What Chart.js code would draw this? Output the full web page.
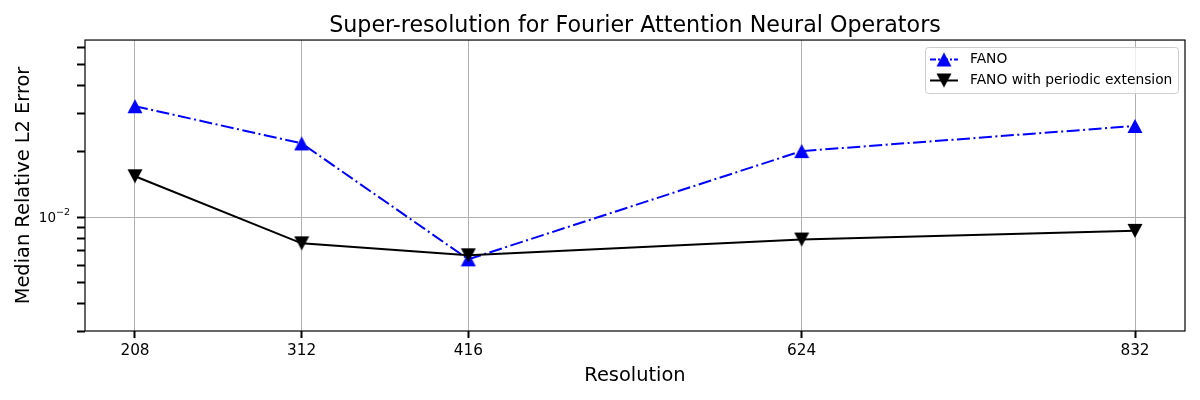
<!DOCTYPE html>
<html>
<head>
<meta charset="utf-8">
<script src="https://cdn.jsdelivr.net/npm/chart.js@4.4.1/dist/chart.umd.min.js"></script>
<style>body{margin:0;background:#fff}</style>
</head>
<body>
<canvas id="mycanvas" width="1200" height="400"></canvas>
<script>
// values
var resolutions = [208, 312, 416, 624, 832];
var fanoErr = [0.0323, 0.0218, 0.0064, 0.0201, 0.0262];
var fanoPeriodicErr = [0.0154, 0.00758, 0.00668, 0.00789, 0.00865];
var yTicks = [0.003, 0.004, 0.005, 0.006, 0.007, 0.008, 0.009, 0.01, 0.02, 0.03, 0.04, 0.05, 0.06];
var yLabelled = 0.01;
var yLabelBase = '10';
var yLabelExp = '\u22122';
var seriesNames = ['FANO', 'FANO with periodic extension'];

Chart.defaults.font.family = "'DejaVu Sans', sans-serif";
Chart.defaults.color = '#000';

// matplotlib style triangle markers
function triangle(up, color) {
  var c = document.createElement('canvas');
  c.width = 16; c.height = 16;
  var g = c.getContext('2d');
  g.fillStyle = color;
  g.beginPath();
  if (up) {
    g.moveTo(8, 1); g.lineTo(15.5, 15); g.lineTo(0.5, 15);
  } else {
    g.moveTo(8, 15); g.lineTo(15.5, 1); g.lineTo(0.5, 1);
  }
  g.closePath();
  g.fill();
  return c;
}
var upBlue = triangle(true, '#0000ff');
var downBlack = triangle(false, '#000000');

function points(vals) {
  var out = [];
  for (var i in resolutions) out.push({x: resolutions[i], y: vals[i]});
  return out;
}

var framePlugin = {
  id: 'frame',
  afterDraw: function(chart) {
    var ctx = chart.ctx, a = chart.chartArea;
    ctx.save();
    ctx.strokeStyle = '#000';
    ctx.lineWidth = 1.2;
    ctx.strokeRect(a.left, a.top, a.right - a.left, a.bottom - a.top);

    // 10^-2 label with a real superscript
    var ty = chart.scales.y.getPixelForValue(yLabelled);
    var right = a.left - 15;
    ctx.fillStyle = '#000';
    ctx.textAlign = 'right';
    ctx.textBaseline = 'middle';
    ctx.font = "9.5px 'DejaVu Sans'";
    var ew = ctx.measureText(yLabelExp).width;
    ctx.fillText(yLabelExp, right, ty - 4.5);
    ctx.font = "13.5px 'DejaVu Sans'";
    ctx.fillText(yLabelBase, right - ew, ty + 1.5);

    // legend box, upper right
    var bx = 925, by = 47, bw = 253, bh = 46, r = 3;
    ctx.fillStyle = 'rgba(255,255,255,0.8)';
    ctx.strokeStyle = '#cccccc';
    ctx.lineWidth = 1;
    ctx.beginPath();
    ctx.roundRect(bx + 0.5, by + 0.5, bw, bh, r);
    ctx.fill();
    ctx.stroke();

    var rows = [
      {y: 59.5, color: '#0000ff', dash: [6, 2, 2, 2], img: upBlue, text: seriesNames[0]},
      {y: 80.5, color: '#000000', dash: [], img: downBlack, text: seriesNames[1]}
    ];
    ctx.font = "13.8px 'DejaVu Sans'";
    ctx.textBaseline = 'middle';
    ctx.textAlign = 'left';
    rows.forEach(function(row) {
      ctx.strokeStyle = row.color;
      ctx.lineWidth = 2;
      ctx.setLineDash(row.dash);
      ctx.beginPath();
      ctx.moveTo(930, row.y);
      ctx.lineTo(958, row.y);
      ctx.stroke();
      ctx.setLineDash([]);
      ctx.drawImage(row.img, 944 - 8, row.y - 8);
      ctx.fillStyle = '#000';
      ctx.fillText(row.text, 970, row.y);
    });
    ctx.restore();
  }
};

var ctx = document.getElementById('mycanvas');

var lineGraph = new Chart(ctx, {
  type: 'line',
  data: {
    datasets: [
      {
        label: seriesNames[0],
        data: points(fanoErr),
        borderColor: '#0000ff',
        backgroundColor: '#0000ff',
        borderWidth: 2,
        borderDash: [13, 3.5, 2, 3.5],
        pointStyle: upBlue,
        pointRadius: 8,
        order: 1
      },
      {
        label: seriesNames[1],
        data: points(fanoPeriodicErr),
        borderColor: '#000000',
        backgroundColor: '#000000',
        borderWidth: 2,
        pointStyle: downBlack,
        pointRadius: 8,
        order: 0
      }
    ]
  },
  options: {
    responsive: false,
    animation: false,
    layout: {padding: {left: 0, right: 15, top: 0, bottom: 0}},
    plugins: {
      legend: {display: false},
      tooltip: {enabled: false},
      title: {
        display: true,
        fullSize: false,
        text: 'Super-resolution for Fourier Attention Neural Operators',
        font: {size: 22.2, weight: 'normal', lineHeight: 1.2},
        color: '#000',
        padding: {top: 13.4, bottom: 0}
      }
    },
    scales: {
      x: {
        type: 'linear',
        min: 176.8,
        max: 863.2,
        afterBuildTicks: function(scale) {
          scale.ticks = resolutions.map(function(v) { return {value: v}; });
        },
        afterFit: function(scale) { scale.height = 69; },
        ticks: {
          autoSkip: false,
          maxRotation: 0,
          padding: 4,
          font: {size: 15.3},
          callback: function(v) { return String(v); }
        },
        grid: {
          color: '#b0b0b0',
          lineWidth: 1,
          tickColor: '#000',
          tickWidth: 2,
          tickLength: 7
        },
        border: {display: false},
        title: {
          display: true,
          text: 'Resolution',
          font: {size: 19.4},
          padding: {top: 0, bottom: 12.4}
        }
      },
      y: {
        type: 'logarithmic',
        min: 0.003,
        max: 0.065,
        afterBuildTicks: function(scale) {
          scale.ticks = yTicks.map(function(v) { return {value: v}; });
        },
        afterFit: function(scale) { scale.width = 85; },
        ticks: {
          autoSkip: false,
          padding: 6,
          font: {size: 13.5},
          // the labelled tick is drawn with a superscript in the frame plugin
          callback: function() { return ''; }
        },
        grid: {
          color: function(c) {
            return c.tick && c.tick.value === yLabelled ? '#b0b0b0' : 'rgba(0,0,0,0)';
          },
          lineWidth: 1,
          tickColor: '#000',
          tickWidth: 2,
          tickLength: 8
        },
        border: {display: false},
        title: {
          display: true,
          text: 'Median Relative L2 Error',
          font: {size: 19.4},
          padding: {top: 12.4, bottom: 0}
        }
      }
    }
  },
  plugins: [framePlugin]
});
</script>
</body>
</html>
